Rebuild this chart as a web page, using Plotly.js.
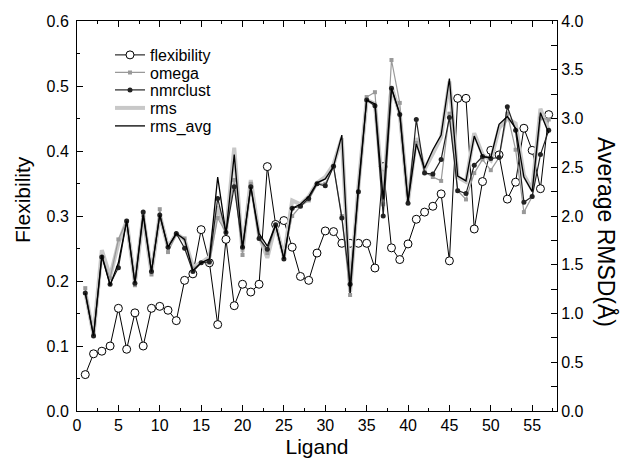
<!DOCTYPE html>
<html>
<head>
<meta charset="utf-8">
<script src="https://cdn.plot.ly/plotly-3.0.1.min.js"></script>
<style>html,body{margin:0;padding:0;background:#fff;}#chart{width:627px;height:465px;}</style>
</head>
<body>
<div id="chart"></div>
<script>
// Ligand index 1..57
const ligands = [1,2,3,4,5,6,7,8,9,10,11,12,13,14,15,16,17,18,19,20,21,22,23,24,25,26,27,28,29,30,31,32,33,34,35,36,37,38,39,40,41,42,43,44,45,46,47,48,49,50,51,52,53,54,55,56,57];

// Flexibility (left axis)
const flexibility = [0.056,0.088,0.092,0.100,0.158,0.095,0.151,0.100,0.158,0.161,0.155,0.139,0.201,0.211,0.279,
  0.228,0.133,0.264,0.162,0.195,0.183,0.195,0.376,0.287,0.293,0.252,0.207,0.201,0.243,0.277,
  0.276,0.258,0.258,0.258,0.258,0.220,0.376,0.251,0.233,0.257,0.295,0.306,0.315,0.334,0.231,
  0.481,0.481,0.280,0.353,0.401,0.394,0.326,0.352,0.435,0.401,0.342,0.456];

// Average RMSD (right axis)
const omega = [1.26,0.78,1.58,1.36,1.76,1.95,1.29,2.01,1.40,2.07,1.63,1.81,1.77,1.46,1.52,
  1.52,1.98,1.83,2.37,1.60,2.33,1.78,1.62,1.91,1.58,2.00,2.10,2.16,2.33,2.33,
  2.51,2.00,1.19,2.25,3.22,3.27,2.12,3.60,3.16,2.15,2.75,2.45,2.40,2.36,3.05,
  2.26,2.17,2.44,2.58,2.47,2.60,3.05,2.68,2.04,2.20,3.00,2.99];
const nmrclust = [1.21,0.77,1.58,1.30,1.47,1.95,1.31,2.04,1.43,2.01,1.68,1.82,1.67,1.43,1.52,
  1.53,2.18,1.83,2.30,1.68,2.30,1.77,1.66,1.91,1.56,2.08,2.10,2.18,2.33,2.31,
  2.51,1.98,1.30,2.25,3.19,3.13,2.00,3.31,3.04,2.13,2.99,2.44,2.43,2.58,3.01,
  2.26,2.23,2.52,2.61,2.59,2.60,3.12,2.88,2.14,2.20,2.63,2.88];
const rms = [1.22,0.78,1.65,1.38,1.72,1.95,1.31,2.00,1.42,2.01,1.68,1.82,1.76,1.48,1.52,
  1.58,2.10,1.83,2.70,1.63,2.37,1.80,1.57,1.91,1.58,2.16,2.12,2.20,2.34,2.40,
  2.53,2.80,1.22,2.30,3.19,3.15,2.20,3.33,3.05,2.15,2.80,2.48,2.64,2.81,3.38,
  2.40,2.35,2.85,2.63,2.57,2.90,3.00,2.95,2.42,2.27,3.10,2.88];
const rms_avg = [1.21,0.77,1.60,1.29,1.52,1.95,1.31,2.01,1.43,2.01,1.68,1.82,1.76,1.44,1.52,
  1.56,2.40,1.82,2.63,1.67,2.30,1.82,1.69,1.91,1.56,2.08,2.12,2.20,2.34,2.38,
  2.51,2.83,1.21,2.30,3.19,3.15,2.17,3.31,3.05,2.15,2.74,2.49,2.68,2.83,3.41,
  2.41,2.36,2.82,2.61,2.60,2.94,3.02,2.90,2.40,2.25,3.06,2.85];

const traces = [
  {x: ligands, y: flexibility, name: 'flexibility', mode: 'lines+markers', yaxis: 'y', legend: 'legend',
   line: {color: '#000', width: 1},
   marker: {symbol: 'circle', size: 8, color: '#fff', line: {color: '#000', width: 1}}},
  {x: ligands, y: rms, name: 'rms', mode: 'lines', yaxis: 'y2', legend: 'legend4',
   line: {color: '#c8c8c8', width: 4}},
  {x: ligands, y: omega, name: 'omega', mode: 'lines+markers', yaxis: 'y2', legend: 'legend2',
   line: {color: '#999', width: 1.2},
   marker: {symbol: 'square', size: 4, color: '#999'}},
  {x: ligands, y: nmrclust, name: 'nmrclust', mode: 'lines+markers', yaxis: 'y2', legend: 'legend3',
   line: {color: '#222', width: 1.2},
   marker: {symbol: 'circle', size: 5, color: '#222'}},
  {x: ligands, y: rms_avg, name: 'rms_avg', mode: 'lines', yaxis: 'y2', legend: 'legend5',
   line: {color: '#000', width: 1.3}}
];

const fontFam = '"Liberation Sans", Arial, sans-serif';
const plotTop = 21, plotBottom = 411, plotLeft = 77, plotRight = 557;
function py(pix) { return (plotBottom - pix) / (plotBottom - plotTop); }
function px(pix) { return (pix - plotLeft) / (plotRight - plotLeft); }
function leg(rowY) {
  return {x: px(110), y: py(rowY), xanchor: 'left', yanchor: 'middle', bgcolor: 'rgba(0,0,0,0)',
          font: {size: 16, family: fontFam}};
}

const layout = {
  width: 627, height: 465,
  margin: {l: plotLeft, r: 627 - plotRight, t: plotTop, b: 465 - plotBottom},
  paper_bgcolor: '#fff', plot_bgcolor: '#fff',
  font: {family: fontFam, size: 16, color: '#000'},
  showlegend: true,
  legend: leg(55), legend2: leg(72.5), legend3: leg(90), legend4: leg(108), legend5: leg(126),
  xaxis: {range: [0, 58], tick0: 0, dtick: 5, ticks: 'inside', ticklen: 6, tickcolor: '#000',
          showline: true, linecolor: '#000', linewidth: 1, mirror: 'ticks', showgrid: false, zeroline: false,
          minor: {dtick: 2.5, ticks: 'inside', ticklen: 3, tickcolor: '#000'},
          title: {text: 'Ligand', font: {size: 21}, standoff: 6}},
  yaxis: {range: [0, 0.6], tick0: 0, dtick: 0.1, tickformat: '.1f', ticks: 'inside', ticklen: 6, tickcolor: '#000',
          showline: true, linecolor: '#000', linewidth: 1, showgrid: false, zeroline: false, ticklabelstandoff: 4,
          minor: {dtick: 0.05, ticks: 'inside', ticklen: 3, tickcolor: '#000'}},
  yaxis2: {range: [0, 4], tick0: 0, dtick: 0.5, tickformat: '.1f', ticks: 'inside', ticklen: 6, tickcolor: '#000',
           overlaying: 'y', side: 'right', showline: true, linecolor: '#000', linewidth: 1,
           showgrid: false, zeroline: false,
           minor: {dtick: 0.25, ticks: 'inside', ticklen: 6, tickcolor: '#000'}},
  annotations: [
    {text: 'Flexibility', xref: 'paper', yref: 'paper', x: px(22), y: py(200), xanchor: 'center', yanchor: 'middle',
     textangle: -90, showarrow: false, font: {size: 21, family: fontFam}},
    {text: 'Average RMSD(Å)', xref: 'paper', yref: 'paper', x: px(607), y: py(232), xanchor: 'center', yanchor: 'middle',
     textangle: 90, showarrow: false, font: {size: 23, family: fontFam}}
  ]
};

Plotly.newPlot('chart', traces, layout, {displayModeBar: false, staticPlot: true});
</script>
</body>
</html>
